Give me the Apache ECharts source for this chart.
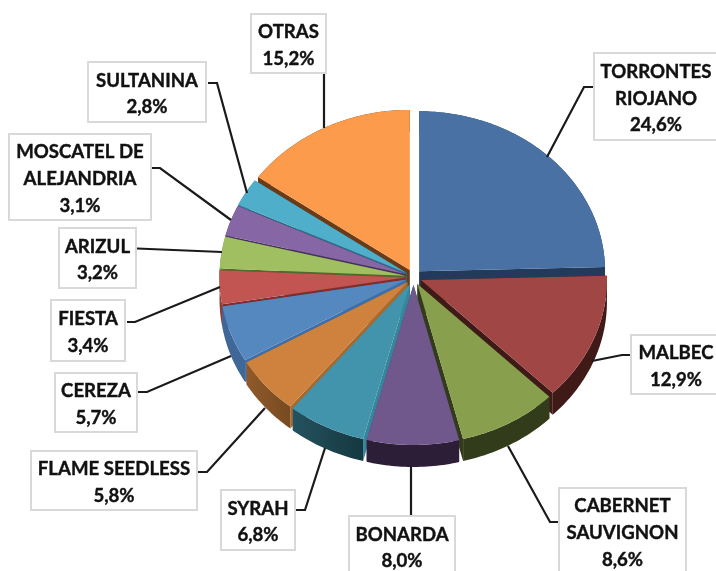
<!DOCTYPE html>
<html>
<head>
<meta charset="utf-8">
<style>html,body{margin:0;padding:0;background:#fff}#c{width:716px;height:571px}</style>
<script src="https://cdn.jsdelivr.net/npm/echarts@6/dist/echarts.min.js"></script>
</head>
<body>
<div id="c"></div>
<script>
const names = ["TORRONTES\nRIOJANO","MALBEC","CABERNET\nSAUVIGNON","BONARDA","SYRAH","FLAME SEEDLESS","CEREZA","FIESTA","ARIZUL","MOSCATEL DE\nALEJANDRIA","SULTANINA","OTRAS"];
const values = [24.6,12.9,8.6,8.0,6.8,5.8,5.7,3.4,3.2,3.1,2.8,15.2];
const topColors = ["#4A71A3","#A04745","#88A04E","#70578C","#4194AB","#CF823E","#5688C0","#C25552","#A0BF60","#8666A5","#4FAEC9","#FB9B4B"];
const wallLeft = ["#233A5A","#3F1A17","#333C1A","#2B1E36","#24525F","#8F5A2B","#3F6797","#8E3B39","#6F8A3C","#5A4273","#34788F","#6B3A17"];
const wallRight = ["#233A5A","#3F1A17","#333C1A","#2B1E36","#153840","#784A20","#3F6797","#8E3B39","#6F8A3C","#5A4273","#34788F","#6B3A17"];
const edgeColors = ["#233A5A","#3F1A17","#333C1A","#4F3B66","#35859C","#A8692F","#3F6FA5","#7C2F2E","#4F6B2B","#45305E","#2A6F85","#6B3A17"];
// label boxes: x, y, width, height
const labelBoxes = [[594,53,130,87],[631,335,90,59],[559,488,127,90],[349,516,106,60],[221,490,74,60],[31,451,166,59],[55,373,82,59],[51,300,74,61],[59,228,77,60],[9,134,142,86],[88,62,118,60],[251,14,75,59]];
const leaderLines = [
 [[593,87],[584,87],[547,157]],[[630,355],[622,355],[592,361]],[[558,522],[550,522],[508,446]],
 [[411,515],[411,467]],[[296,510],[305,510],[325,448]],[[198,472],[207,472],[265,408]],
 [[138,392],[147,392],[231,356]],[[127,322],[135,322],[220,287]],[[137,248.5],[222,252]],
 [[152,168],[160,168],[231,220]],[[208,83],[217,83],[247,193]],[[324,73],[324,128]]
];

const pie = {cx:413.5, cy:277, rx:186, ry:160, explode:8, tilt:1, depth:22};
const total = values.reduce((a,b)=>a+b,0);
const starts = [];
values.reduce((acc,v,i)=>{starts[i]=acc;return acc+v;},0);

function renderSlice(params, api){
  const i = params.dataIndex;
  const v = api.value(0);
  const a0 = starts[i]/total*Math.PI*2, a1 = (starts[i]+v)/total*Math.PI*2, mid=(a0+a1)/2;
  const ax = pie.cx + Math.sin(mid)*pie.explode;
  const ay = pie.cy - Math.cos(mid)*pie.explode*pie.tilt;
  const arc = [];
  const n = Math.max(4,Math.ceil((a1-a0)/(Math.PI/180)));
  for(let k=0;k<=n;k++){
    const a=a0+(a1-a0)*k/n;
    arc.push([ax+Math.sin(a)*pie.rx, ay-Math.cos(a)*pie.ry]);
  }
  const down = p=>[p[0],p[1]+pie.depth];
  const apex=[ax,ay];
  const base = Math.round((1-Math.cos(mid))*100)*5;
  const first=arc[0], last=arc[arc.length-1];
  const wallFill = {type:'linear',x:0,y:0,x2:1,y2:0,colorStops:[{offset:0,color:wallLeft[i]},{offset:1,color:wallRight[i]}]};
  const poly=(points,fill,z)=>({type:'polygon',z2:base+z,shape:{points},style:{fill}});
  return {type:'group',children:[
    poly([apex,first,down(first),down(apex)],edgeColors[i],0),
    poly([apex,last,down(last),down(apex)],edgeColors[i],1),
    poly(arc.concat(arc.map(down).reverse()),wallFill,2),
    poly([apex].concat(arc),topColors[i],3)
  ]};
}
function renderLabel(params, api){
  const i=params.dataIndex;
  const b=labelBoxes[i];
  const pct=api.value(0).toFixed(1).replace('.',',')+'%';
  const textX = i===0 ? 656 : i===1 ? 676 : b[0]+b[2]/2;
  const textY = i===2 ? 533 : i===3 ? 548 : b[1]+b[3]/2+2;
  return {type:'group',children:[
    {type:'polyline',z2:1,shape:{points:leaderLines[i]},style:{stroke:'#1a1a1a',lineWidth:2.2,fill:null}},
    {type:'rect',z2:2,shape:{x:b[0],y:b[1],width:b[2],height:b[3]},style:{fill:'#fff',stroke:'#d9d9d9',lineWidth:2}},
    {type:'text',z2:3,x:textX,y:textY,style:{text:names[i]+'\n'+pct,fontFamily:'Lato',fontWeight:700,fontSize:18.6,lineHeight:26.7,fill:'#111',stroke:'#111',lineWidth:0.4,align:'center',verticalAlign:'middle'}}
  ]};
}
const rows = values.map((v,i)=>({name:names[i],value:[v,i]}));
const chart = echarts.init(document.getElementById('c'),null,{renderer:'canvas'});
chart.setOption({
  animation:false,
  backgroundColor:'#fff',
  series:[
    {type:'custom',coordinateSystem:'none',silent:true,z:2,renderItem:renderSlice,data:rows,clip:false},
    {type:'custom',coordinateSystem:'none',silent:true,z:3,renderItem:renderLabel,data:rows,clip:false}
  ]
});
</script>
</body>
</html>
